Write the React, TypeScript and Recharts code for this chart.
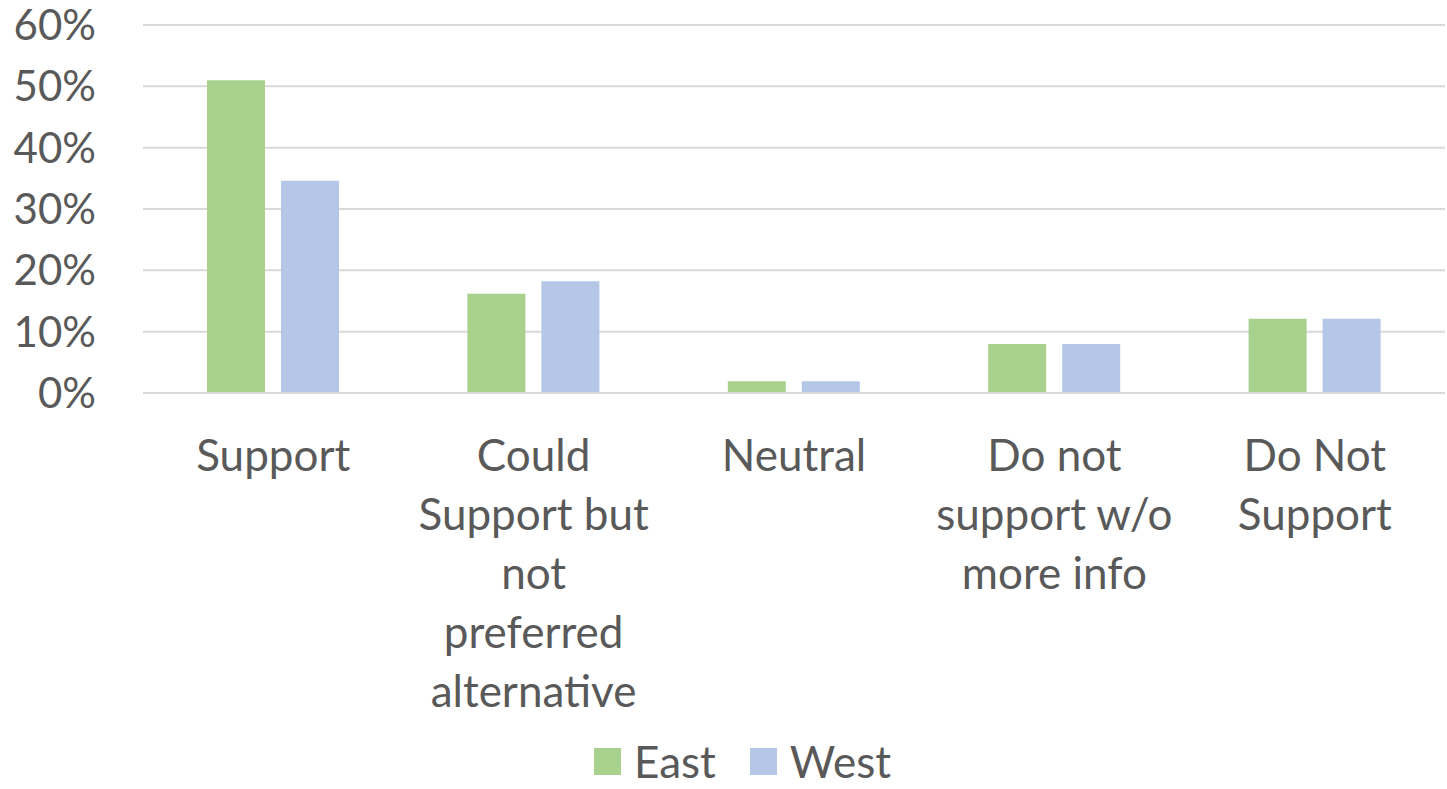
import { BarChart, Bar, XAxis, YAxis, CartesianGrid, Legend } from 'recharts'

const categories = ['Support', 'Could Support but not preferred alternative', 'Neutral', 'Do not support w/o more info', 'Do Not Support']
const categoryLines = [
  ['Support'],
  ['Could', 'Support but', 'not', 'preferred', 'alternative'],
  ['Neutral'],
  ['Do not', 'support w/o', 'more info'],
  ['Do Not', 'Support'],
]
const eastValues = [51, 16.2, 1.9, 8.0, 12.1]
const westValues = [34.6, 18.2, 1.9, 8.0, 12.1]
const yTicks = [0, 10, 20, 30, 40, 50, 60]

const EAST_COLOR = '#A9D18E'
const WEST_COLOR = '#B4C7E7'
const TEXT_COLOR = '#595959'
const GRID_COLOR = '#D9D9D9'
const FONT = 'Lato, "Open Sans", sans-serif'

const data = categories.map((name, i) => ({
  name,
  idx: i,
  East: eastValues[i],
  West: westValues[i],
}))

const CategoryTick = (props: any) => {
  const { x, y, index } = props
  const lines = categoryLines[index] ?? []
  return (
    <text x={x} y={y} textAnchor="middle" fill={TEXT_COLOR} fontSize={44} fontFamily={FONT}>
      {lines.map((line, i) => (
        <tspan key={i} x={x} dy={i === 0 ? 70 : 59}>
          {line}
        </tspan>
      ))}
    </text>
  )
}

const LegendContent = (props: any) => {
  const { payload } = props
  return (
    <div style={{ display: 'flex', justifyContent: 'center', alignItems: 'center', fontFamily: FONT, paddingTop: 9, paddingLeft: 40, height: 46 }}>
      {payload.map((entry: any, i: number) => (
        <div key={i} style={{ display: 'flex', alignItems: 'center', marginLeft: i === 0 ? 0 : 34 }}>
          <span style={{ width: 27, height: 27, background: entry.color, display: 'inline-block', marginRight: 13 }} />
          <span style={{ fontSize: 44, color: TEXT_COLOR, lineHeight: '46px' }}>{entry.value}</span>
        </div>
      ))}
    </div>
  )
}

export default function App() {
  return (
    <div style={{ position: 'absolute', left: 0, top: 0, background: '#fff' }}>
      <BarChart
        width={1447}
        height={789}
        data={data}
        margin={{ top: 25, right: 2, bottom: 0, left: 0 }}
        barCategoryGap={64}
        barGap={16}
      >
        <CartesianGrid vertical={false} stroke={GRID_COLOR} strokeWidth={2} />
        <XAxis
          dataKey="name"
          axisLine={{ stroke: GRID_COLOR, strokeWidth: 2 }}
          tickLine={false}
          interval={0}
          height={336}
          tick={<CategoryTick />}
        />
        <YAxis
          domain={[0, 60]}
          ticks={yTicks}
          width={143}
          axisLine={false}
          tickLine={false}
          tickSize={0}
          tickMargin={47}
          tickFormatter={(v: number) => `${v}%`}
          tick={{ fill: TEXT_COLOR, fontSize: 42, fontFamily: FONT }}
        />
        <Legend verticalAlign="bottom" height={60} content={<LegendContent />} />
        <Bar dataKey="East" fill={EAST_COLOR} isAnimationActive={false} />
        <Bar dataKey="West" fill={WEST_COLOR} isAnimationActive={false} />
      </BarChart>
    </div>
  )
}
